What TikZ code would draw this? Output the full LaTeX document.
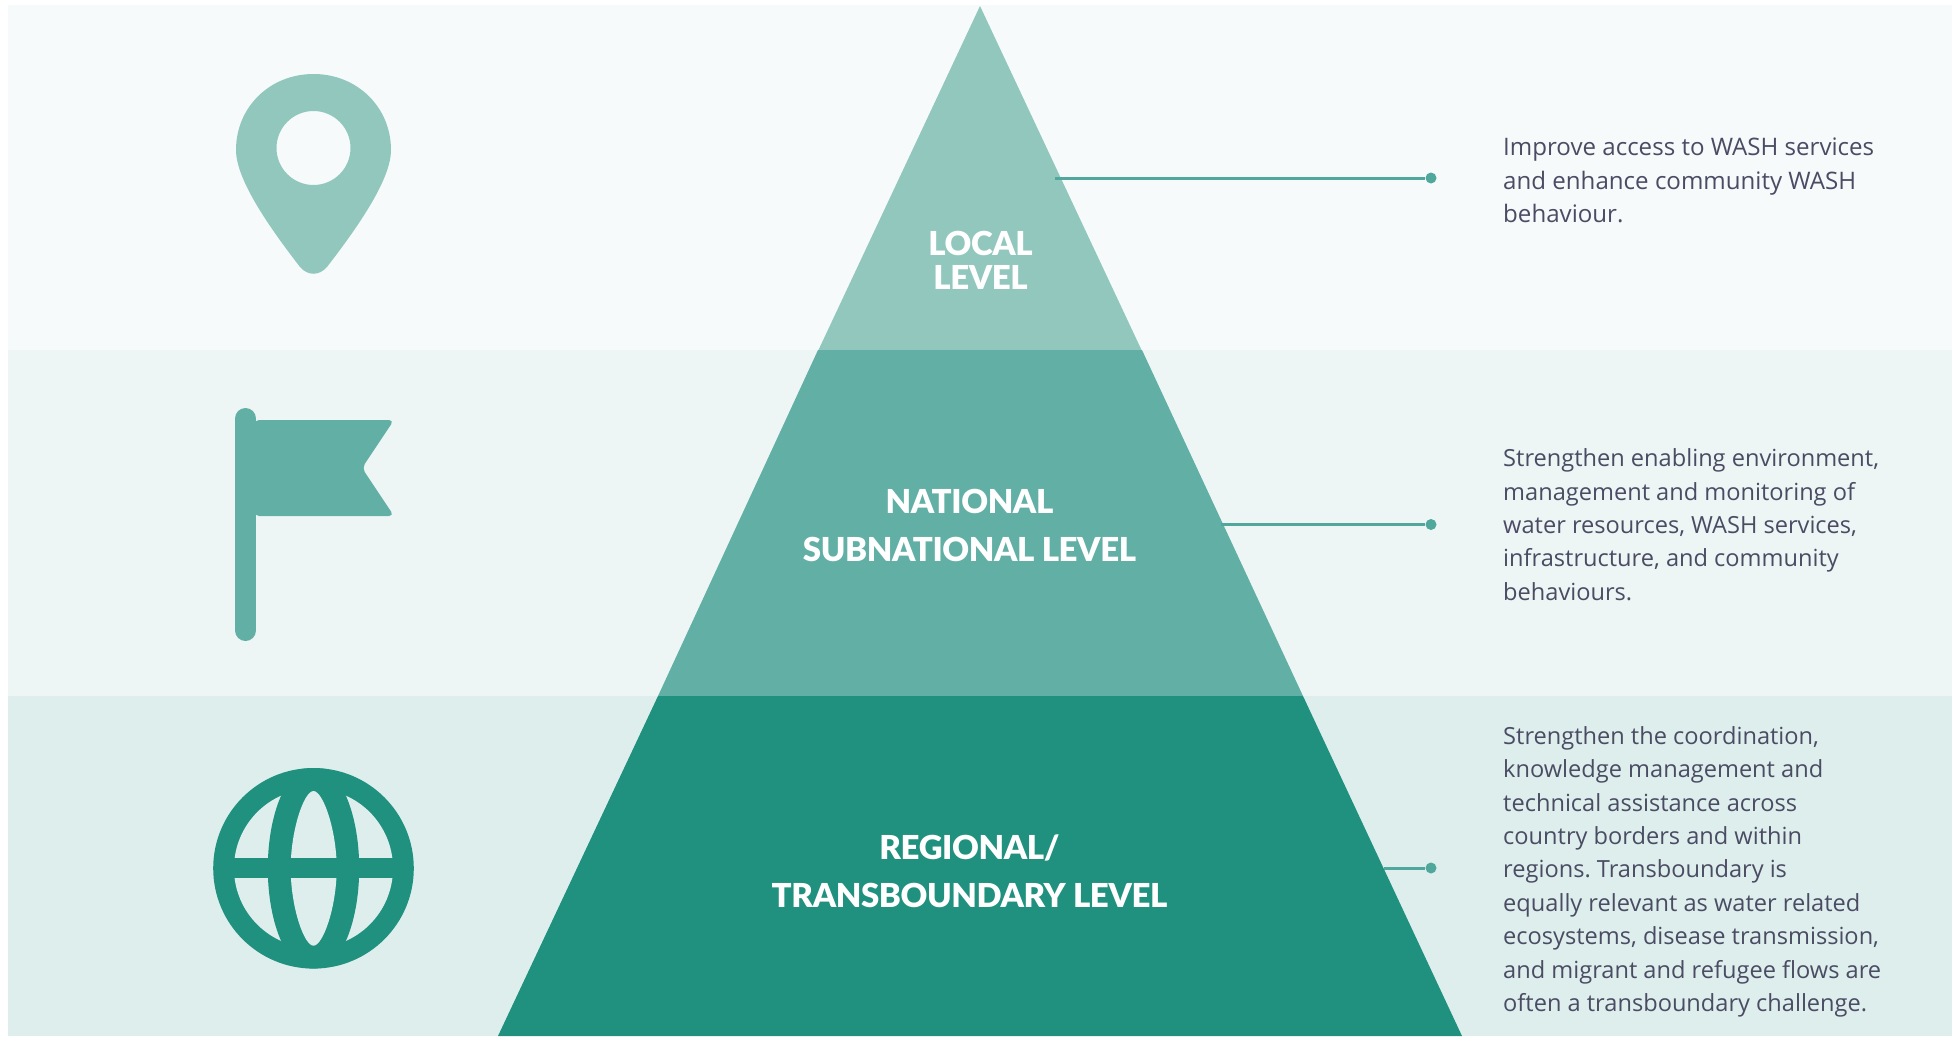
\documentclass[tikz,border=0pt]{standalone}
\usepackage{fontspec}
\setmainfont{Open Sans}
\newfontfamily\lvlfont[LetterSpace=-1.2]{Lato Black}
\definecolor{bgA}{HTML}{F6FAFB}
\definecolor{bgB}{HTML}{EEF6F5}
\definecolor{bgC}{HTML}{DEEEED}
\definecolor{tierA}{HTML}{91C7BD}
\definecolor{tierB}{HTML}{62B0A5}
\definecolor{tierC}{HTML}{1F917E}
\definecolor{bodyink}{HTML}{4A4C63}
\definecolor{linkink}{HTML}{4FA89B}
\tikzset{
  x=1pt,y=-1pt,
  lvl/.style={anchor=south,inner sep=0pt,align=center,text=white,font=\lvlfont\fontsize{33}{48.5}\selectfont},
  lvltight/.style={lvl,font=\lvlfont\fontsize{33}{34}\selectfont},
  body/.style={anchor=north west,inner sep=0pt,align=left,text=bodyink,font=\fontsize{23.6}{33.4}\selectfont\frenchspacing},
  bodywide/.style={body,font=\fontsize{24.1}{33.4}\selectfont\frenchspacing},
  link/.style={draw=linkink,line width=3pt},
  dotnode/.style={circle,fill=linkink,minimum size=11pt,inner sep=0pt},
}
\newcommand{\firstline}{\rule{0pt}{18pt}}
\begin{document}
\begin{tikzpicture}
\useasboundingbox (0,0) rectangle (1959,1036);
\fill[white] (0,0) rectangle (1959,1036);
% bands
\fill[bgA] (8,5) rectangle (1952,350);
\fill[bgB] (8,350) rectangle (1952,696);
\fill[bgC] (8,696) rectangle (1952,1036);
% pyramid
\fill[tierA] (980,6) -- (1142,351) -- (818,351) -- cycle;
\fill[tierB] (818,350) -- (1142,350) -- (1303,696) -- (658,696) -- cycle;
\fill[tierC] (658,696) -- (1303,696) -- (1462,1036) -- (498,1036) -- cycle;
% connectors
\coordinate (edgeA) at (1055,178);
\coordinate (edgeB) at (1221,524.5);
\coordinate (edgeC) at (1384,868);
\node[dotnode] (dotA) at (1431,178) {};
\node[dotnode] (dotB) at (1431,524.5) {};
\node[dotnode] (dotC) at (1431,868) {};
\draw[link] (edgeA) -- (dotA);
\draw[link] (edgeB) -- (dotB);
\draw[link] (edgeC) -- (dotC);
% pin
\fill[tierA,even odd rule] (236,150) .. controls (236,107) and (270,74) .. (313.5,74)
  .. controls (357,74) and (391,107) .. (391,150)
  .. controls (391,180) and (357,228) .. (327,267)
  .. controls (319,276) and (308,276) .. (300,267)
  .. controls (270,228) and (236,180) .. (236,150) -- cycle
  (313.5,148) circle[radius=37];
% flag
\draw[tierB,line width=21pt,line cap=round] (245.5,418.5) -- (245.5,630.5);
\fill[tierB,rounded corners=5pt] (254,420) -- (394,420) -- (362,468) -- (394,516) -- (254,516) -- cycle;
% globe
\fill[tierC] (313.5,868.3) circle[radius=100.3];
\fill[bgC] (313.5,868.3) circle[radius=79.5];
\begin{scope}
  \clip (313.5,868.3) circle[radius=100];
  \fill[tierC] (313.5,868.3) ellipse[x radius=45.7,y radius=103];
\end{scope}
\fill[bgC] (313.5,791) .. controls (323,791) and (336.7,830) .. (336.7,868.3)
  .. controls (336.7,907) and (323,945.7) .. (313.5,945.7)
  .. controls (304,945.7) and (290.7,907) .. (290.7,868.3)
  .. controls (290.7,830) and (304,791) .. (313.5,791) -- cycle;
\fill[tierC] (225,858) rectangle (402,878);
% level labels
\node[lvltight] (lblA) at (980.5,289.5) {LOCAL\\LEVEL};
\node[lvl] (lblB) at (969.5,562) {NATIONAL\\SUBNATIONAL LEVEL};
\node[lvl] (lblC) at (969.5,908) {REGIONAL/\\TRANSBOUNDARY LEVEL};
% body text
\node[bodywide] (txtA) at (1503,137.5) {\firstline Improve access to WASH services\\and enhance community WASH\\behaviour.};
\node[body] (txtB) at (1503,448.5) {\firstline Strengthen enabling environment,\\management and monitoring of\\water resources, WASH services,\\infrastructure, and community\\behaviours.};
\node[body] (txtC) at (1503,726) {\firstline Strengthen the coordination,\\knowledge management and\\technical assistance across\\country borders and within\\regions. Transboundary is\\equally relevant as water related\\ecosystems, disease transmission,\\and migrant and refugee flows are\\often a transboundary challenge.};
\end{tikzpicture}
\end{document}
